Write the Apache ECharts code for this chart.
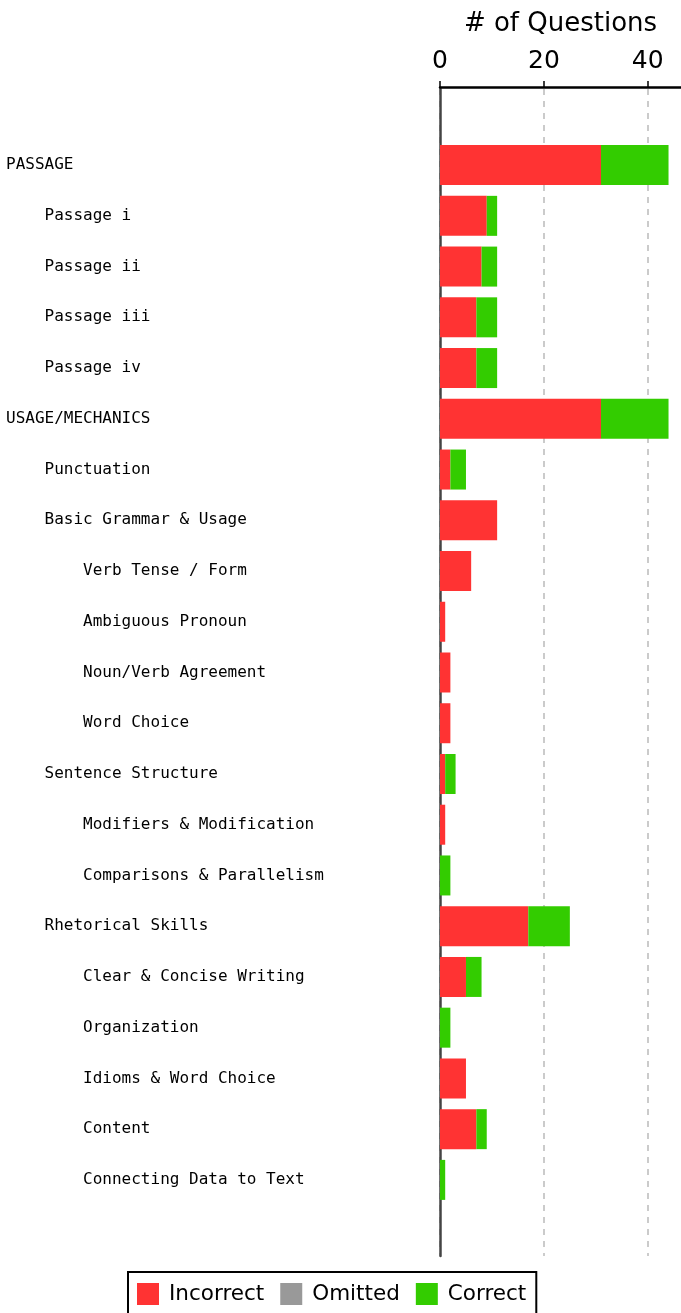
<!DOCTYPE html>
<html>
<head>
<meta charset="utf-8">
<script src="https://cdn.jsdelivr.net/npm/echarts@6/dist/echarts.min.js"></script>
<style>
  html, body { margin: 0; padding: 0; background: #fff; }
  #chart { width: 681px; height: 1313px; }
</style>
</head>
<body>
<div id="chart"></div>
<script>
// categories with indent level (0 = section, 1 = sub, 2 = sub-sub)
const categories = ['PASSAGE', 'Passage i', 'Passage ii', 'Passage iii', 'Passage iv',
  'USAGE/MECHANICS', 'Punctuation', 'Basic Grammar & Usage', 'Verb Tense / Form',
  'Ambiguous Pronoun', 'Noun/Verb Agreement', 'Word Choice', 'Sentence Structure',
  'Modifiers & Modification', 'Comparisons & Parallelism', 'Rhetorical Skills',
  'Clear & Concise Writing', 'Organization', 'Idioms & Word Choice', 'Content',
  'Connecting Data to Text']
const levels = [0, 1, 1, 1, 1, 0, 1, 1, 2, 2, 2, 2, 1, 2, 2, 1, 2, 2, 2, 2, 2]
const incorrect = [31, 9, 8, 7, 7, 31, 2, 11, 6, 1, 2, 2, 1, 1, 0, 17, 5, 0, 5, 7, 0]
const omitted = [0, 0, 0, 0, 0, 0, 0, 0, 0, 0, 0, 0, 0, 0, 0, 0, 0, 0, 0, 0, 0]
const correct = [13, 2, 3, 4, 4, 13, 3, 0, 0, 0, 0, 0, 2, 0, 2, 8, 3, 2, 0, 2, 1]
const xTicks = [0, 20, 40]

// one empty slot above and below, like the original spacing
const labels = [''].concat(categories.map((c, i) => '    '.repeat(levels[i]) + c), [''])
const pad = (arr) => [null].concat(arr, [null])

let myChart = echarts.init(document.getElementById('chart'))
let option = {
  animation: false,
  grid: {
    left: 440,
    right: 0,
    top: 89,
    bottom: 57,
    containLabel: false,
    outerBoundsMode: 'none'
  },
  legend: {
    left: 128,
    top: 1272,
    orient: 'horizontal',
    borderColor: '#000',
    borderWidth: 2,
    borderRadius: 0,
    padding: [11, 10, 11, 9],
    itemWidth: 22,
    itemHeight: 22,
    itemGap: 16,
    icon: 'rect',
    textStyle: {
      fontFamily: 'DejaVu Sans',
      fontSize: 21.5,
      color: '#000',
      padding: [0, 0, 0, 5]
    },
    data: ['Incorrect', 'Omitted', 'Correct']
  },
  xAxis: {
    type: 'value',
    position: 'top',
    offset: 2,
    min: 0,
    max: 46.4,
    interval: 20,
    name: '# of Questions',
    nameLocation: 'middle',
    nameGap: 50,
    nameTextStyle: {
      fontFamily: 'DejaVu Sans',
      fontSize: 26,
      color: '#000'
    },
    axisLine: {
      show: true,
      lineStyle: { color: '#000', width: 2.5 }
    },
    axisTick: {
      show: true,
      length: 6,
      lineStyle: { color: '#000', width: 1.5 }
    },
    axisLabel: {
      margin: 13,
      showMaxLabel: false,
      fontFamily: 'DejaVu Sans',
      fontSize: 25,
      color: '#000',
      formatter: (v) => xTicks.indexOf(v) >= 0 ? String(v) : ''
    },
    splitLine: {
      show: true,
      showMaxLine: false,
      lineStyle: { color: '#bbb', type: [6, 6], width: 1.5 }
    }
  },
  yAxis: {
    type: 'category',
    inverse: true,
    data: labels,
    axisLine: {
      show: true,
      lineStyle: { color: '#444', width: 2.5 }
    },
    axisTick: { show: false },
    splitLine: { show: false },
    axisLabel: {
      interval: 0,
      align: 'left',
      margin: 434,
      fontFamily: 'DejaVu Sans Mono',
      fontSize: 16,
      color: '#000'
    }
  },
  series: [
    {
      name: 'Incorrect',
      type: 'bar',
      stack: 'total',
      barWidth: 40,
      itemStyle: { color: '#ff3333' },
      data: pad(incorrect)
    },
    {
      name: 'Omitted',
      type: 'bar',
      stack: 'total',
      barWidth: 40,
      itemStyle: { color: '#999999' },
      data: pad(omitted)
    },
    {
      name: 'Correct',
      type: 'bar',
      stack: 'total',
      barWidth: 40,
      itemStyle: { color: '#33cc00' },
      data: pad(correct)
    }
  ]
}
myChart.setOption(option)
</script>
</body>
</html>
